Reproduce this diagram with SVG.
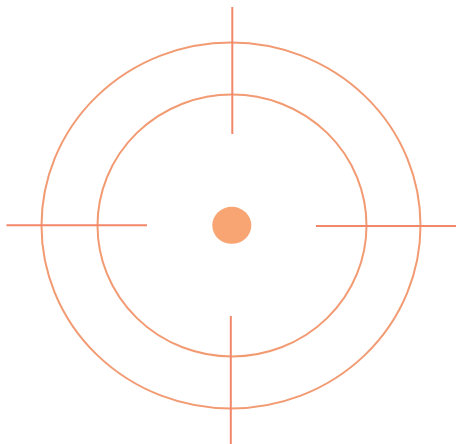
<svg xmlns="http://www.w3.org/2000/svg" width="458" height="444" viewBox="0 0 458 444">
<style>
.ring{fill:none;stroke:#F29A72;stroke-width:2}
.hair{stroke:#F2876A;stroke-width:2}
.dot{fill:#F8A473}
</style>
<rect width="458" height="444" fill="#FFFFFF"/>
<g id="rings">
<ellipse class="ring" cx="231" cy="225.5" rx="189.5" ry="183"/>
<ellipse class="ring" cx="232" cy="225.5" rx="134.5" ry="131"/>
</g>
<g id="crosshair">
<line class="hair" x1="232.3" y1="7" x2="232.3" y2="134"/>
<line class="hair" x1="230.8" y1="316" x2="230.8" y2="444"/>
<line class="hair" x1="6.5" y1="225.3" x2="147" y2="225.3"/>
<line class="hair" x1="316" y1="226" x2="456" y2="226"/>
</g>
<g id="center">
<ellipse class="dot" cx="231.8" cy="225.3" rx="19.5" ry="18.5"/>
</g>
</svg>
